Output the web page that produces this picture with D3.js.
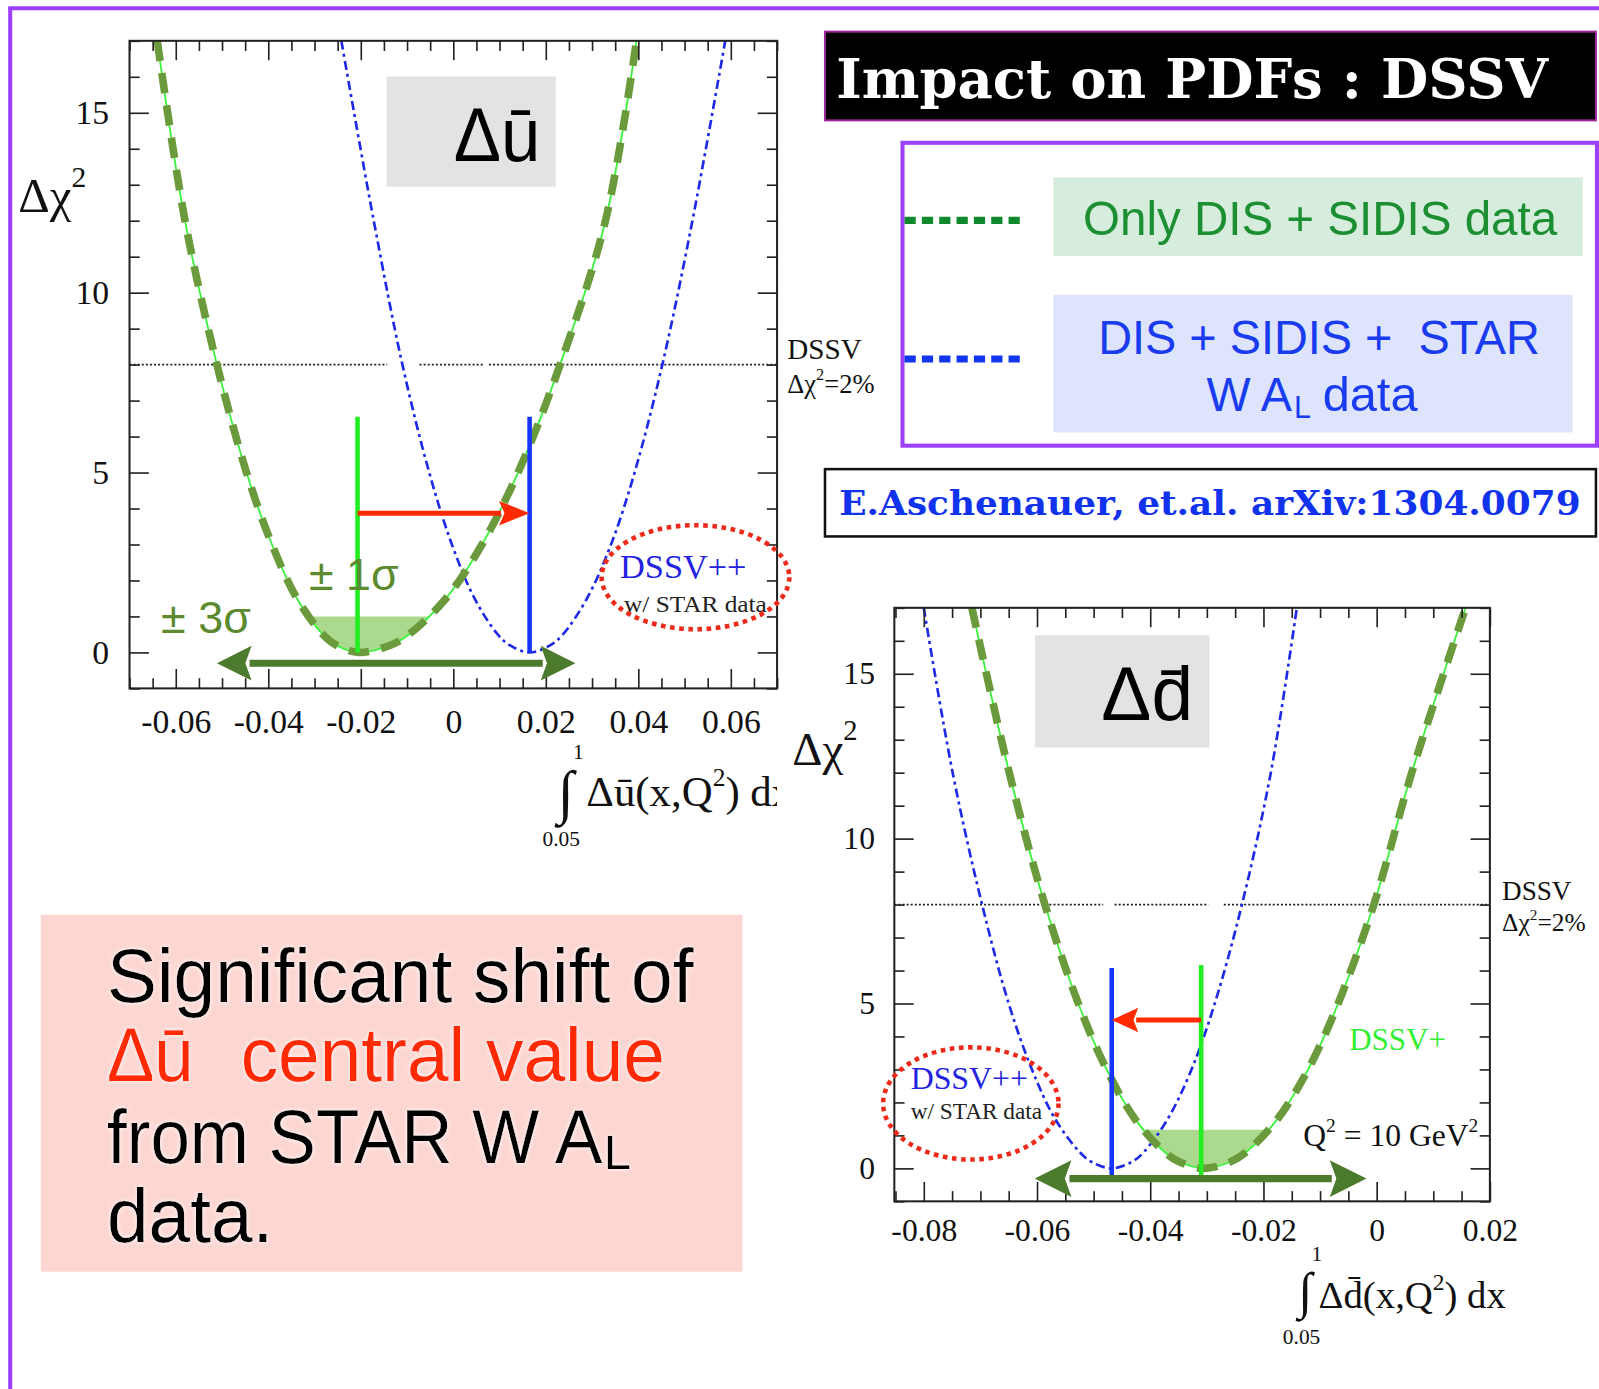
<!DOCTYPE html>
<html><head><meta charset="utf-8">
<script src="https://cdn.jsdelivr.net/npm/d3@7"></script>
<style>body{margin:0;background:#fff;overflow:hidden}</style>
</head><body><svg id="c"></svg>
<script>
// ---------------- DATA ----------------
const curveChi2 = [17, 12, 8, 5, 3, 1.5, 0.5, 0.2, 0, 0.2, 0.5, 1.5, 3, 5, 8, 12, 17];
// Δū panel
const duPlusX     = [-0.0640, -0.0580, -0.0511, -0.0447, -0.0392, -0.0338, -0.0282, -0.0253, -0.0205, -0.0136, -0.0096, -0.0016, 0.0062, 0.0140, 0.0231, 0.0329, 0.0396];
const duPlusPlusX = [-0.0242, -0.0172, -0.0110, -0.0052, -0.0003, 0.0046, 0.0096, 0.0122, 0.0165, 0.0210, 0.0237, 0.0289, 0.0341, 0.0392, 0.0452, 0.0517, 0.0588];
const duCentral   = [-0.0207, 0.0165];      // DSSV+, DSSV++ central values
const duCentralTop = [6.55, 6.55];
const duShiftChi2 = 3.87;
const duBand1Sigma = 1.0;
const du3SigmaRange = [-0.0511, 0.0264];
const duXTicks = [-0.06, -0.04, -0.02, 0, 0.02, 0.04, 0.06];
const duXTickLabels = ["-0.06", "-0.04", "-0.02", "0", "0.02", "0.04", "0.06"];
const duRefGaps = [[-0.0143, -0.0073], [0.0066, 0.0077]];
// Δd̄ panel
const ddPlusX     = [-0.0715, -0.0649, -0.0586, -0.0527, -0.0477, -0.0427, -0.0375, -0.0349, -0.0305, -0.0258, -0.0230, -0.0175, -0.0121, -0.0068, -0.0005, 0.0062, 0.0157];
const ddPlusPlusX = [-0.0800, -0.0749, -0.0697, -0.0650, -0.0609, -0.0568, -0.0525, -0.0504, -0.0468, -0.0432, -0.0411, -0.0369, -0.0327, -0.0286, -0.0238, -0.0187, -0.0141];
const ddCentral   = [-0.0310, -0.0468];
const ddCentralTop = [6.17, 6.08];
const ddShiftChi2 = 4.5;
const ddBand1Sigma = 1.17;
const dd3SigmaRange = [-0.0604, -0.0018];
const ddXTicks = [-0.08, -0.06, -0.04, -0.02, 0, 0.02];
const ddXTickLabels = ["-0.08", "-0.06", "-0.04", "-0.02", "0", "0.02"];
const ddRefGaps = [[-0.0483, -0.0463], [-0.0297, -0.0270]];
// shared
const yTicks = [0, 5, 10, 15];
const yTickLabels = ["0", "5", "10", "15"];
const refChi2 = 8;

// ---------------- DRAWING ----------------
const W = 1568, H = 1362;
const svg = d3.select('#c').attr('width', 1599).attr('height', 1389).attr('viewBox', `0 0 ${W} ${H}`);
const defs = svg.append('defs');
const glow = defs.append('filter').attr('id', 'glow').attr('x', '-5%').attr('y', '-10%').attr('width', '110%').attr('height', '120%');
glow.append('feDropShadow').attr('dx', 0).attr('dy', 0).attr('stdDeviation', 2.5).attr('flood-color', '#ffffff').attr('flood-opacity', 1);

const SERIF = '"Liberation Serif","Times New Roman",serif';
const SANS = '"Liberation Sans",Arial,Helvetica,sans-serif';
const SLAB = '"DejaVu Serif",serif';

// outer purple frame
svg.append('line').attr('x1', 8).attr('x2', W).attr('y1', 8).attr('y2', 8).attr('stroke', '#9b40ff').attr('stroke-width', 4);
svg.append('line').attr('x1', 10).attr('x2', 10).attr('y1', 8).attr('y2', H).attr('stroke', '#9b40ff').attr('stroke-width', 4);

function panel(cfg) {
  const x = d3.scaleLinear().domain(cfg.xDomain).range([cfg.left, cfg.right]);
  const y = d3.scaleLinear().domain([-1, 17]).range([cfg.bottom, cfg.top]);
  const g = svg.append('g');
  const cid = cfg.id + 'clip';
  defs.append('clipPath').attr('id', cid).append('rect')
    .attr('x', cfg.left).attr('y', cfg.top).attr('width', cfg.right - cfg.left).attr('height', cfg.bottom - cfg.top);

  // label box
  g.append('rect').attr('x', cfg.box[0]).attr('y', cfg.box[1]).attr('width', cfg.box[2]).attr('height', cfg.box[3]).attr('fill', '#e3e3e3');
  g.append('text').attr('x', cfg.boxText[0]).attr('y', cfg.boxText[1]).attr('font-family', SANS).attr('font-size', 74)
    .attr('textLength', cfg.boxText[2]).attr('lengthAdjust', 'spacingAndGlyphs').attr('fill', '#000').text(cfg.label);

  const inner = g.append('g').attr('clip-path', `url(#${cid})`);
  const line = d3.line().x(d => x(d[0])).y(d => y(d[1])).curve(d3.curveCatmullRom.alpha(0.5));
  const plusPts = d3.zip(cfg.plusX, curveChi2);
  const ppPts = d3.zip(cfg.ppX, curveChi2);

  // 1 sigma shading
  const bid = cfg.id + 'band';
  defs.append('clipPath').attr('id', bid).append('rect')
    .attr('x', cfg.left).attr('y', y(cfg.band)).attr('width', cfg.right - cfg.left).attr('height', y(-0.2) - y(cfg.band));
  inner.append('g').attr('clip-path', `url(#${bid})`).append('path').attr('d', line(plusPts) + 'Z').attr('fill', '#abd98d');

  // reference dotted line at Δχ²=8
  const segs = [];
  let s = cfg.xDomain[0];
  cfg.gaps.forEach(gp => { segs.push([s, gp[0]]); s = gp[1]; });
  segs.push([s, cfg.xDomain[1]]);
  segs.forEach(sg => inner.append('line').attr('x1', x(sg[0])).attr('x2', x(sg[1])).attr('y1', y(refChi2)).attr('y2', y(refChi2))
    .attr('stroke', '#222').attr('stroke-width', 1.6).attr('stroke-dasharray', '2,2'));

  // curves
  inner.append('path').attr('d', line(ppPts)).attr('fill', 'none').attr('stroke', '#1e2ae6').attr('stroke-width', 2.6).attr('stroke-dasharray', '9,4,3,4');
  inner.append('path').attr('d', line(plusPts)).attr('fill', 'none').attr('stroke', '#3cf23c').attr('stroke-width', 1.8);
  inner.append('path').attr('d', line(plusPts)).attr('fill', 'none').attr('stroke', '#6b9a3c').attr('stroke-width', 7.5).attr('stroke-dasharray', '20,12');

  // central value lines
  g.append('line').attr('x1', x(cfg.central[0])).attr('x2', x(cfg.central[0])).attr('y1', y(cfg.centralBottom[0])).attr('y2', y(cfg.centralTop[0]))
    .attr('stroke', '#22ee22').attr('stroke-width', 4.5);
  g.append('line').attr('x1', x(cfg.central[1])).attr('x2', x(cfg.central[1])).attr('y1', y(cfg.centralBottom[1])).attr('y2', y(cfg.centralTop[1]))
    .attr('stroke', '#1535ff').attr('stroke-width', 4.5);

  // axes
  const xd = cfg.xDomain;
  const xMinor = d3.range(Math.round(xd[0] / 0.005), Math.round(xd[1] / 0.005) + 1).map(k => k * 0.005)
    .filter(v => !cfg.xTicks.some(m => Math.abs(m - v) < 1e-9));
  const yMinor = d3.range(-1, 18).filter(v => !yTicks.includes(v));
  const style = sel => {
    sel.select('.domain').remove();
    sel.selectAll('line').attr('stroke', '#222').attr('stroke-width', 1.6);
    sel.selectAll('text').attr('font-family', SERIF).attr('font-size', cfg.tickFont).attr('fill', '#111');
  };
  const axG = g.append('g');
  axG.append('g').attr('transform', `translate(0,${cfg.bottom})`)
    .call(d3.axisBottom(x).tickValues(cfg.xTicks).tickSize(-19).tickPadding(cfg.xPad).tickFormat((d, i) => cfg.xLabels[i])).call(style);
  axG.append('g').attr('transform', `translate(0,${cfg.bottom})`)
    .call(d3.axisBottom(x).tickValues(xMinor).tickSize(-10).tickFormat('')).call(style);
  axG.append('g').attr('transform', `translate(0,${cfg.top})`)
    .call(d3.axisTop(x).tickValues(cfg.xTicks).tickSize(-19).tickFormat('')).call(style);
  axG.append('g').attr('transform', `translate(0,${cfg.top})`)
    .call(d3.axisTop(x).tickValues(xMinor).tickSize(-10).tickFormat('')).call(style);
  axG.append('g').attr('transform', `translate(${cfg.left},0)`)
    .call(d3.axisLeft(y).tickValues(yTicks).tickSize(-19).tickPadding(cfg.yPad).tickFormat((d, i) => yTickLabels[i])).call(style);
  axG.append('g').attr('transform', `translate(${cfg.left},0)`)
    .call(d3.axisLeft(y).tickValues(yMinor).tickSize(-10).tickFormat('')).call(style);
  axG.append('g').attr('transform', `translate(${cfg.right},0)`)
    .call(d3.axisRight(y).tickValues(yTicks).tickSize(-19).tickFormat('')).call(style);
  axG.append('g').attr('transform', `translate(${cfg.right},0)`)
    .call(d3.axisRight(y).tickValues(yMinor).tickSize(-10).tickFormat('')).call(style);
  g.append('rect').attr('x', cfg.left).attr('y', cfg.top).attr('width', cfg.right - cfg.left).attr('height', cfg.bottom - cfg.top)
    .attr('fill', 'none').attr('stroke', '#222').attr('stroke-width', 2);

  return { x, y, g };
}

function hArrow(g, x1, x2, yy, color, shaftW, headL, headHW, both) {
  const dir = x2 > x1 ? 1 : -1;
  const sx1 = both ? x1 + dir * (headL - 2) : x1;
  const sx2 = x2 - dir * (headL - 2);
  g.append('line').attr('x1', sx1).attr('x2', sx2).attr('y1', yy).attr('y2', yy).attr('stroke', color).attr('stroke-width', shaftW);
  const head = (tip, d) => g.append('path')
    .attr('d', `M${tip},${yy} L${tip - d * headL},${yy - headHW} L${tip - d * headL * 0.82},${yy} L${tip - d * headL},${yy + headHW} Z`)
    .attr('fill', color);
  head(x2, dir);
  if (both) head(x1, -dir);
}

function chiLabel(g, xx, yy, size, supSize, supDy, extra) {
  const t = g.append('text').attr('x', xx).attr('y', yy).attr('font-family', SERIF).attr('font-size', size).attr('fill', '#111');
  t.append('tspan').text('Δχ');
  t.append('tspan').attr('font-size', supSize).attr('dy', supDy).text('2');
  if (extra) t.append('tspan').attr('dy', -supDy).text(extra);
  return t;
}

// ---------- Δū panel ----------
const P1 = panel({
  id: 'du', left: 127, right: 762, top: 40, bottom: 675, xDomain: [-0.07, 0.07],
  xTicks: duXTicks, xLabels: duXTickLabels, plusX: duPlusX, ppX: duPlusPlusX,
  central: duCentral, centralTop: duCentralTop, centralBottom: [0, 0], band: duBand1Sigma, gaps: duRefGaps,
  box: [379, 75, 166, 108], boxText: [445, 158, 85], label: 'Δū', tickFont: 33, xPad: 20, yPad: 20
});
{
  const { x, y, g } = P1;
  hArrow(g, x(duCentral[0]), x(duCentral[1]), y(duShiftChi2), '#ff2a00', 5, 30, 12, false);
  hArrow(g, x(du3SigmaRange[0]), x(du3SigmaRange[1]), y(-0.3), '#4d7b2d', 7, 34, 17, true);
  g.append('text').attr('x', 303).attr('y', 579).attr('font-family', SANS).attr('font-size', 44).attr('fill', '#5c8a2e').text('± 1σ');
  g.append('text').attr('x', 158).attr('y', 621).attr('font-family', SANS).attr('font-size', 44).attr('fill', '#5c8a2e').text('± 3σ');
  g.append('text').attr('x', 608).attr('y', 567).attr('font-family', SERIF).attr('font-size', 33).attr('fill', '#2222e0')
    .attr('textLength', 124).attr('lengthAdjust', 'spacingAndGlyphs').text('DSSV++');
  g.append('text').attr('x', 612).attr('y', 600).attr('font-family', SERIF).attr('font-size', 23).attr('fill', '#222')
    .attr('textLength', 140).attr('lengthAdjust', 'spacingAndGlyphs').text('w/ STAR data');
  g.append('ellipse').attr('cx', 682).attr('cy', 566).attr('rx', 92).attr('ry', 51).attr('fill', 'none')
    .attr('stroke', '#ee2a1a').attr('stroke-width', 4.5).attr('stroke-dasharray', '4.5,4.5');
  // DSSV Δχ²=2% label
  g.append('text').attr('x', 772).attr('y', 352).attr('font-family', SERIF).attr('font-size', 28).attr('fill', '#111')
    .attr('textLength', 73).attr('lengthAdjust', 'spacingAndGlyphs').text('DSSV');
  chiLabel(g, 772, 385, 26, 16, -12, '=2%');
  // y title
  chiLabel(g, 18, 208, 48, 29, -25);
  // x title (clipped at frame)
  defs.append('clipPath').attr('id', 'duxt').append('rect').attr('x', 0).attr('y', 700).attr('width', 762).attr('height', 200);
  const xt = g.append('g').attr('clip-path', 'url(#duxt)');
  xt.append('text').attr('x', 547).attr('y', 796).attr('font-family', SERIF).attr('font-size', 58).attr('fill', '#111').text('∫');
  xt.append('text').attr('x', 562).attr('y', 744).attr('font-family', SERIF).attr('font-size', 21).attr('fill', '#111').text('1');
  xt.append('text').attr('x', 532).attr('y', 830).attr('font-family', SERIF).attr('font-size', 21).attr('fill', '#111').text('0.05');
  const t1 = xt.append('text').attr('x', 575).attr('y', 790).attr('font-family', SERIF).attr('font-size', 42).attr('fill', '#111');
  t1.append('tspan').text('Δū(x,Q');
  t1.append('tspan').attr('font-size', 25).attr('dy', -19).text('2');
  t1.append('tspan').attr('dy', 19).text(') dx');
}

// ---------- Δd̄ panel ----------
const P2 = panel({
  id: 'dd', left: 877, right: 1461, top: 596, bottom: 1178, xDomain: [-0.0852, 0.02],
  xTicks: ddXTicks, xLabels: ddXTickLabels, plusX: ddPlusX, ppX: ddPlusPlusX,
  central: ddCentral, centralTop: ddCentralTop, centralBottom: [-0.28, -0.34], band: ddBand1Sigma, gaps: ddRefGaps,
  box: [1015, 623, 171, 110], boxText: [1080, 706, 90], label: 'Δd̄', tickFont: 31, xPad: 17, yPad: 19
});
{
  const { x, y, g } = P2;
  hArrow(g, x(ddCentral[0]), x(ddCentral[1]), y(ddShiftChi2), '#ff2a00', 5, 26, 12, false);
  hArrow(g, x(dd3SigmaRange[0]), x(dd3SigmaRange[1]), y(-0.31), '#4d7b2d', 7, 36, 18, true);
  g.append('text').attr('x', 893).attr('y', 1068).attr('font-family', SERIF).attr('font-size', 31).attr('fill', '#2222e0')
    .attr('textLength', 115).attr('lengthAdjust', 'spacingAndGlyphs').text('DSSV++');
  g.append('text').attr('x', 893).attr('y', 1097).attr('font-family', SERIF).attr('font-size', 22).attr('fill', '#222')
    .attr('textLength', 129).attr('lengthAdjust', 'spacingAndGlyphs').text('w/ STAR data');
  g.append('ellipse').attr('cx', 952).attr('cy', 1082).attr('rx', 86).attr('ry', 55).attr('fill', 'none')
    .attr('stroke', '#ee2a1a').attr('stroke-width', 4.5).attr('stroke-dasharray', '4.5,4.5');
  g.append('text').attr('x', 1323).attr('y', 1030).attr('font-family', SERIF).attr('font-size', 31).attr('fill', '#33ee33')
    .attr('textLength', 95).attr('lengthAdjust', 'spacingAndGlyphs').text('DSSV+');
  const q = g.append('text').attr('x', 1278).attr('y', 1124).attr('font-family', SERIF).attr('font-size', 31).attr('fill', '#111');
  q.append('tspan').text('Q');
  q.append('tspan').attr('font-size', 19).attr('dy', -14).text('2');
  q.append('tspan').attr('dy', 14).text(' = 10 GeV');
  q.append('tspan').attr('font-size', 19).attr('dy', -14).text('2');
  g.append('text').attr('x', 1473).attr('y', 883).attr('font-family', SERIF).attr('font-size', 27).attr('fill', '#111')
    .attr('textLength', 68).attr('lengthAdjust', 'spacingAndGlyphs').text('DSSV');
  chiLabel(g, 1473, 913, 25, 15, -11, '=2%');
  chiLabel(g, 777, 750, 46, 28, -24);
  g.append('text').attr('x', 1273).attr('y', 1283).attr('font-family', SERIF).attr('font-size', 50).attr('fill', '#111').text('∫');
  g.append('text').attr('x', 1286).attr('y', 1237).attr('font-family', SERIF).attr('font-size', 21).attr('fill', '#111').text('1');
  g.append('text').attr('x', 1258).attr('y', 1318).attr('font-family', SERIF).attr('font-size', 21).attr('fill', '#111').text('0.05');
  const t2 = g.append('text').attr('x', 1293).attr('y', 1283).attr('font-family', SERIF).attr('font-size', 38).attr('fill', '#111');
  t2.append('tspan').text('Δd̄(x,Q');
  t2.append('tspan').attr('font-size', 23).attr('dy', -18).text('2');
  t2.append('tspan').attr('dy', 18).text(') dx');
}

// ---------- top right: title, legend, citation ----------
svg.append('rect').attr('x', 809).attr('y', 31).attr('width', 756).attr('height', 87).attr('fill', '#000').attr('stroke', '#9a2a9a').attr('stroke-width', 2);
svg.append('text').attr('x', 820).attr('y', 96).attr('font-family', SLAB).attr('font-weight', 'bold').attr('font-size', 54)
  .attr('fill', '#fff').attr('textLength', 698).attr('lengthAdjust', 'spacingAndGlyphs').text('Impact on PDFs : DSSV');

svg.append('rect').attr('x', 885).attr('y', 140).attr('width', 681).attr('height', 297).attr('fill', 'none').attr('stroke', '#9b40ff').attr('stroke-width', 4);
svg.append('line').attr('x1', 887).attr('x2', 1004).attr('y1', 216).attr('y2', 216).attr('stroke', '#10892c').attr('stroke-width', 7).attr('stroke-dasharray', '11,6');
svg.append('line').attr('x1', 887).attr('x2', 1004).attr('y1', 352).attr('y2', 352).attr('stroke', '#1236f0').attr('stroke-width', 7).attr('stroke-dasharray', '11,6');
svg.append('rect').attr('x', 1033).attr('y', 174).attr('width', 519).attr('height', 77).attr('fill', '#d6ecdc');
svg.append('text').attr('x', 1062).attr('y', 230).attr('font-family', SANS).attr('font-size', 48).attr('fill', '#1c8f33')
  .attr('textLength', 465).attr('lengthAdjust', 'spacingAndGlyphs').text('Only DIS + SIDIS data');
svg.append('rect').attr('x', 1033).attr('y', 289).attr('width', 509).attr('height', 135).attr('fill', '#dde4fc');
svg.append('text').attr('x', 1077).attr('y', 347).attr('font-family', SANS).attr('font-size', 48).attr('fill', '#1a3cf0')
  .style('white-space', 'pre').attr('textLength', 433).attr('lengthAdjust', 'spacingAndGlyphs').text('DIS + SIDIS +  STAR');
svg.append('text').attr('x', 1183).attr('y', 403).attr('font-family', SANS).attr('font-size', 48).attr('fill', '#1a3cf0')
  .attr('textLength', 84).attr('lengthAdjust', 'spacingAndGlyphs').text('W A');
svg.append('text').attr('x', 1269).attr('y', 410).attr('font-family', SANS).attr('font-size', 30).attr('fill', '#1a3cf0').text('L');
svg.append('text').attr('x', 1297).attr('y', 403).attr('font-family', SANS).attr('font-size', 48).attr('fill', '#1a3cf0')
  .attr('textLength', 93).attr('lengthAdjust', 'spacingAndGlyphs').text('data');

svg.append('rect').attr('x', 809).attr('y', 460).attr('width', 756).attr('height', 66).attr('fill', '#fff').attr('stroke', '#111').attr('stroke-width', 2.5);
svg.append('text').attr('x', 823).attr('y', 505).attr('font-family', SLAB).attr('font-weight', 'bold').attr('font-size', 33)
  .attr('fill', '#1133ee').attr('textLength', 727).attr('lengthAdjust', 'spacingAndGlyphs').text('E.Aschenauer, et.al. arXiv:1304.0079');

// ---------- bottom-left statement ----------
svg.append('rect').attr('x', 40).attr('y', 897).attr('width', 688).attr('height', 350).attr('fill', '#fdd6d1');
const msg = svg.append('g').attr('font-family', SANS).attr('font-size', 74).attr('filter', 'url(#glow)');
msg.append('text').attr('x', 105).attr('y', 983).attr('fill', '#000').attr('textLength', 575).attr('lengthAdjust', 'spacingAndGlyphs').text('Significant shift of');
msg.append('text').attr('x', 105).attr('y', 1060).attr('fill', '#ff2a00').attr('textLength', 85).attr('lengthAdjust', 'spacingAndGlyphs').text('Δū');
msg.append('text').attr('x', 236).attr('y', 1060).attr('fill', '#ff2a00').attr('textLength', 416).attr('lengthAdjust', 'spacingAndGlyphs').text('central value');
msg.append('text').attr('transform', 'translate(105,1140) scale(0.94,1)').attr('fill', '#000').text('from STAR W A');
msg.append('text').attr('x', 592).attr('y', 1146).attr('fill', '#000').attr('font-size', 48).text('L');
msg.append('text').attr('x', 105).attr('y', 1218).attr('fill', '#000').attr('textLength', 163).attr('lengthAdjust', 'spacingAndGlyphs').text('data.');
</script>
</body></html>
